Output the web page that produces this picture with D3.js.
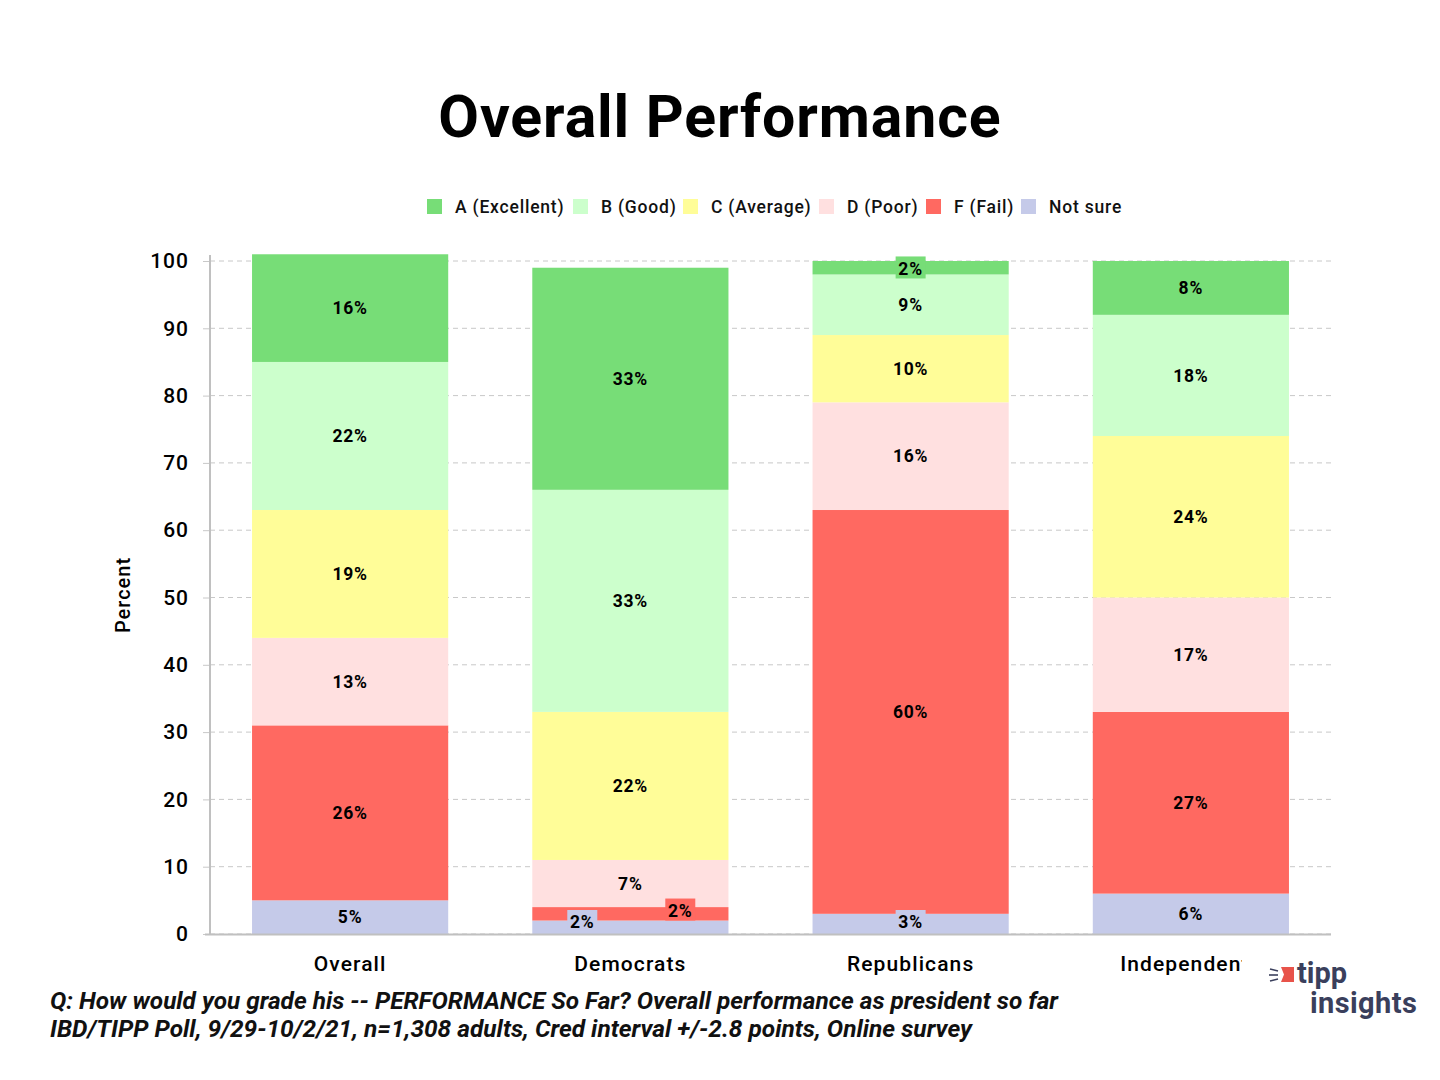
<!DOCTYPE html>
<html><head><meta charset="utf-8">
<script src="https://cdnjs.cloudflare.com/ajax/libs/d3/7.8.5/d3.min.js"></script>
<style>
body{margin:0;background:#fff;}
svg{display:block;}
</style></head>
<body><svg id="c" width="1440" height="1080"></svg>
<script>
const categories = ["Overall", "Democrats", "Republicans", "Independents"];
const seriesNames = ["Not sure", "F (Fail)", "D (Poor)", "C (Average)", "B (Good)", "A (Excellent)"];
const legendOrder = ["A (Excellent)", "B (Good)", "C (Average)", "D (Poor)", "F (Fail)", "Not sure"];
const notSure   = [5, 2, 3, 6];
const fail      = [26, 2, 60, 27];
const poor      = [13, 7, 16, 17];
const average   = [19, 22, 10, 24];
const good      = [22, 33, 9, 18];
const excellent = [16, 33, 2, 8];
const yTicks = [0, 10, 20, 30, 40, 50, 60, 70, 80, 90, 100];
const colors = {"A (Excellent)":"#77dd77","B (Good)":"#ccffcc","C (Average)":"#fffd98","D (Poor)":"#ffe0e0","F (Fail)":"#ff6961","Not sure":"#c5cae9"};

const seriesValues = [notSure, fail, poor, average, good, excellent];
const rows = categories.map((c,i)=>{const r={cat:c}; seriesNames.forEach((s,j)=>r[s]=seriesValues[j][i]); return r;});
const stack = d3.stack().keys(seriesNames)(rows);

const svg = d3.select("#c");
const font = "Roboto, 'Noto Sans', sans-serif";
const L=210, R=1331, T=261, B=934;
const x = d3.scaleBand().domain(categories).range([L,R]).paddingInner(0.3).paddingOuter(0.15);
const y = d3.scaleLinear().domain([0,100]).range([B,T]);

// title
svg.append("text").attr("x",720).attr("y",137).attr("text-anchor","middle")
  .attr("font-family",font).attr("font-weight",700).attr("font-size",59).attr("letter-spacing",0.9).attr("fill","#000")
  .text("Overall Performance");

// legend
const legendX = [427,573,683,819,926,1021];
const lg = svg.append("g");
legendOrder.forEach((s,i)=>{
  lg.append("rect").attr("x",legendX[i]).attr("y",199).attr("width",15).attr("height",15).attr("fill",colors[s]);
  lg.append("text").attr("x",legendX[i]+28).attr("y",213).attr("font-family",font).attr("font-weight",500)
    .attr("font-size",17.5).attr("letter-spacing",0.8).attr("fill","#111").text(s);
});

// grid
svg.append("g").selectAll("line").data(yTicks).join("line")
  .attr("x1",L).attr("x2",R).attr("y1",d=>y(d)).attr("y2",d=>y(d))
  .attr("stroke","#c8c8c8").attr("stroke-dasharray","5,4").attr("stroke-width",1);

// y axis
const ya = svg.append("g").attr("transform",`translate(${L},0)`)
  .call(d3.axisLeft(y).tickValues(yTicks).tickSize(7).tickPadding(14));
ya.select(".domain").remove();
ya.selectAll(".tick line").attr("stroke","#c8c8c8");
ya.selectAll(".tick text").attr("font-family",font).attr("font-size",21).attr("font-weight",500)
  .attr("letter-spacing",1).attr("fill","#000");
svg.append("line").attr("x1",L).attr("x2",L).attr("y1",255).attr("y2",B).attr("stroke","#c0c0c0").attr("stroke-width",2);

// y label
svg.append("text").attr("transform","translate(130,595) rotate(-90)").attr("text-anchor","middle")
  .attr("font-family",font).attr("font-weight",500).attr("font-size",20).attr("letter-spacing",1).attr("fill","#000").text("Percent");

// bars
const gBars = svg.append("g");
stack.forEach(layer=>{
  gBars.append("g").attr("fill",colors[layer.key]).selectAll("rect").data(layer).join("rect")
    .attr("x",d=>x(d.data.cat)).attr("width",x.bandwidth())
    .attr("y",d=>y(d[1])).attr("height",d=>y(d[0])-y(d[1]));
});

// bottom axis line
svg.append("line").attr("x1",205).attr("x2",R).attr("y1",B+0.5).attr("y2",B+0.5).attr("stroke","#c0c0c0").attr("stroke-width",2);

// labels
const gLab = svg.append("g");
stack.forEach(layer=>{
  layer.forEach((d,i)=>{
    const v = d[1]-d[0];
    let cx = x(d.data.cat)+x.bandwidth()/2;
    let cy = (y(d[0])+y(d[1]))/2;
    const small = v < 4;
    if (d.data.cat==="Democrats" && layer.key==="Not sure") { cx = x(d.data.cat)+50; cy = y(d[0])-12; }
    if (d.data.cat==="Democrats" && layer.key==="F (Fail)") { cx = x(d.data.cat)+148; cy = y(d[0])-10; }
    if (d.data.cat==="Republicans" && layer.key==="Not sure") { cy = y(d[0])-12; }
    if (d.data.cat==="Republicans" && layer.key==="A (Excellent)") { cy = y(d[0])-6; }
    if (small) {
      gLab.append("rect").attr("x",cx-15).attr("y",cy-12).attr("width",30).attr("height",22)
        .attr("fill",colors[layer.key]);
    }
    gLab.append("text").attr("x",cx).attr("y",cy).attr("dy","0.35em").attr("text-anchor","middle")
      .attr("font-family",font).attr("font-weight",700).attr("font-size",17.5).attr("letter-spacing",0.8).attr("fill","#000")
      .text(v+"%");
  });
});

// x axis labels
svg.append("g").selectAll("text").data(categories).join("text")
  .attr("x",d=>x(d)+x.bandwidth()/2).attr("y",971).attr("text-anchor","middle")
  .attr("font-family",font).attr("font-weight",500).attr("font-size",21).attr("letter-spacing",1.1).attr("fill","#000").text(d=>d);

// logo (white background box clipping last label as in source)
const logo = svg.append("g");
logo.append("rect").attr("x",1242).attr("y",945).attr("width",198).attr("height",80).attr("fill","#fff");
logo.append("path").attr("d","M1281,967 L1294,967 L1294,982 L1281,982 L1284,974.5 Z").attr("fill","#e8534a");
logo.append("line").attr("x1",1270).attr("x2",1278).attr("y1",969).attr("y2",971).attr("stroke","#3a3f5c").attr("stroke-width",1.6);
logo.append("line").attr("x1",1269).attr("x2",1278).attr("y1",975).attr("y2",975).attr("stroke","#3a3f5c").attr("stroke-width",1.6);
logo.append("line").attr("x1",1270).attr("x2",1278).attr("y1",981).attr("y2",979).attr("stroke","#3a3f5c").attr("stroke-width",1.6);
logo.append("text").attr("x",1297).attr("y",983).attr("font-family",font).attr("font-weight",700)
  .attr("font-size",29).attr("fill","#3a3f5c").text("tipp");
logo.append("text").attr("x",1310).attr("y",1013).attr("font-family",font).attr("font-weight",700)
  .attr("font-size",29).attr("letter-spacing",0.4).attr("fill","#3a3f5c").text("insights");

// footer
const foot = ["Q:  How would you grade his -- PERFORMANCE So Far? Overall performance as president so far",
              "IBD/TIPP Poll, 9/29-10/2/21, n=1,308 adults, Cred interval +/-2.8 points, Online survey"];
const footLen = [1008, 922];
svg.append("g").selectAll("text").data(foot).join("text")
  .attr("x",50).attr("y",(d,i)=>1009+i*28)
  .attr("font-family",font).attr("font-style","italic").attr("font-weight",700)
  .attr("font-size",23).attr("textLength",(d,i)=>footLen[i]).attr("lengthAdjust","spacingAndGlyphs")
  .attr("fill","#111").text(d=>d);
</script>
</body></html>
